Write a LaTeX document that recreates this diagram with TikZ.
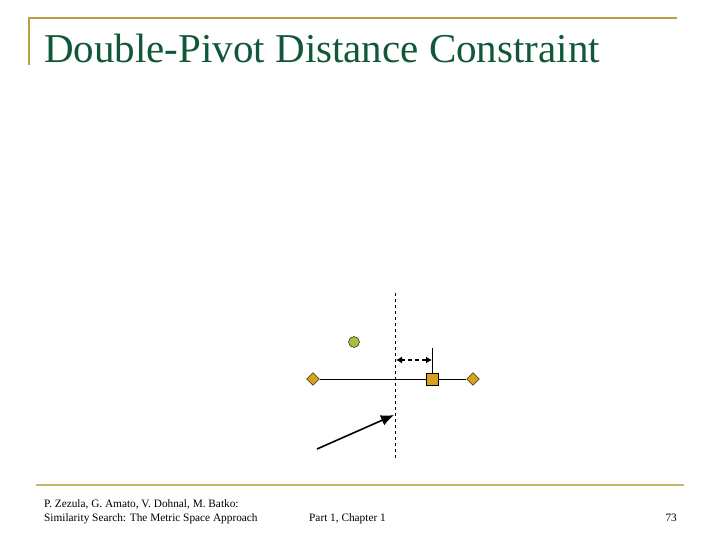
\documentclass[tikz,border=0pt]{standalone}
\usepackage{fontspec}
\setmainfont{Liberation Serif}
\usepackage{tikz}
\usetikzlibrary{arrows,arrows.meta,shapes.geometric}

\definecolor{rulegold}{RGB}{184,160,64}
\definecolor{rulepale}{RGB}{196,184,104}
\definecolor{titlegreen}{RGB}{16,88,56}
\definecolor{pivotgold}{RGB}{214,160,32}
\definecolor{querygreen}{RGB}{168,190,64}

\begin{document}
\begin{tikzpicture}[
  x=1pt, y=-1pt,
  pnode/.style={draw,diamond,fill=pivotgold,minimum size=13pt,inner sep=0pt},
  onode/.style={draw,rectangle,fill=pivotgold,minimum size=12pt,inner sep=0pt},
  qnode/.style={draw,circle,fill=querygreen,minimum size=11pt,inner sep=0pt},
  foot/.style={font=\fontsize{11.3}{13}\selectfont,inner sep=0pt}
]
  \useasboundingbox (0,0) rectangle (720,540);

  % frame
  \coordinate (tl) at (29,18);
  \coordinate (tr) at (677,18);
  \coordinate (tb) at (29,65);
  \coordinate (bl) at (36,485);
  \coordinate (br) at (684,485);
  \draw[rulegold,line width=2pt] (tb) -- (tl) -- (tr);
  \draw[rulepale,line width=2pt] (bl) -- (br);

  % title
  \node[anchor=base west,inner sep=0pt,text=titlegreen,
        font=\fontsize{41}{44}\selectfont] (title) at (44,63)
    {Double-Pivot Distance Constraint};

  % pivots and objects
  \node[pnode] (p1) at (313,379) {};
  \node[pnode] (p2) at (473,379) {};
  \node[onode] (o) at (432,379) {};
  \node[qnode] (q) at (354,342) {};

  % hyperplane
  \coordinate (h1) at (395,293);
  \coordinate (h2) at (395,460);
  \draw[dashed] (h1) -- (h2);

  % edges
  \draw (p1) -- (o);
  \draw (o) -- (p2);
  \coordinate (otop) at (432,348);
  \draw (o) -- (otop);
  \coordinate (dl) at (396,360);
  \coordinate (dr) at (432,360);
  \draw[line width=2pt,dash pattern=on 4pt off 3pt,
        {Latex[length=6pt,width=7pt]}-{Latex[length=6pt,width=7pt]}] (dl) -- (dr);
  \coordinate (a1) at (317,449);
  \coordinate (a2) at (394,415);
  \draw[line width=1.6pt,-{Latex[length=13pt,width=11pt]}] (a1) -- (a2);

  % footer
  \node[foot,anchor=base west] (auth) at (44,507) {P. Zezula, G. Amato, V. Dohnal, M. Batko:};
  \node[foot,anchor=base west] (book) at (44,521) {Similarity Search: The Metric Space Approach};
  \node[foot,anchor=base west] (part) at (309,521) {Part 1, Chapter 1};
  \node[foot,anchor=base east] (page) at (677,521) {73};
\end{tikzpicture}
\end{document}
